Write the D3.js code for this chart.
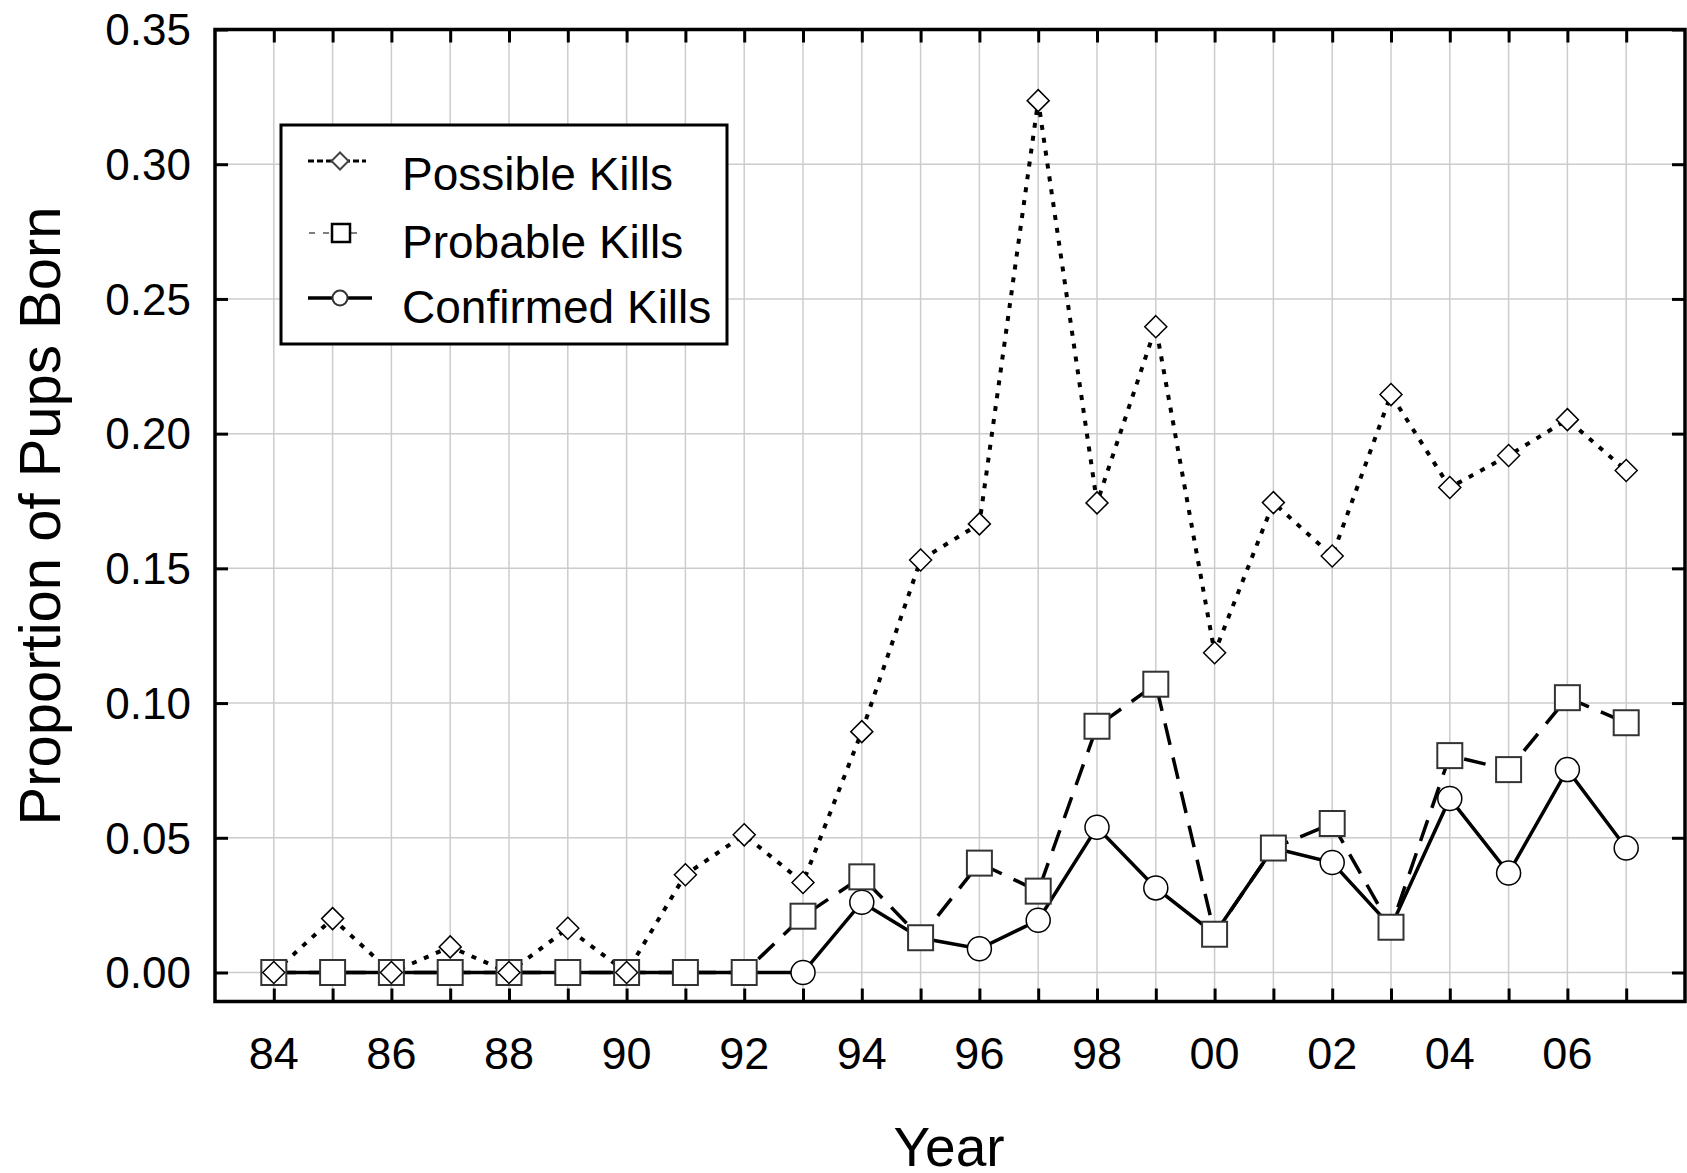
<!DOCTYPE html>
<html lang="en">
<head>
    <meta charset="UTF-8">
    <script src="https://cdnjs.cloudflare.com/ajax/libs/d3/7.8.5/d3.min.js"></script>
    <title>Proportion of Pups Born</title>
    <style>
        body { margin: 0; background: #fff; }
        svg { display: block; font-family: "Liberation Sans", Arial, sans-serif; }
    </style>
</head>
<body>
    <svg width="1687" height="1173"></svg>
    <script>
        var years = [1984, 1985, 1986, 1987, 1988, 1989, 1990, 1991, 1992, 1993, 1994, 1995,
            1996, 1997, 1998, 1999, 2000, 2001, 2002, 2003, 2004, 2005, 2006, 2007];
        var possibleKills = [0, 0.020, 0, 0.0095, 0, 0.0164, 0, 0.0363, 0.0511, 0.0334, 0.0894, 0.1531,
            0.1665, 0.3236, 0.1743, 0.2397, 0.1187, 0.1744, 0.1546, 0.2145, 0.1800, 0.1919, 0.2052, 0.1863];
        var probableKills = [0, 0, 0, 0, 0, 0, 0, 0, 0, 0.0209, 0.0355, 0.0129,
            0.0406, 0.0302, 0.0914, 0.1070, 0.0142, 0.0462, 0.0553, 0.0168, 0.0805, 0.0753, 0.1020, 0.0927];
        var confirmedKills = [0, 0, 0, 0, 0, 0, 0, 0, 0, 0, 0.0261, 0.0128,
            0.0088, 0.0194, 0.0539, 0.0314, 0.0143, 0.0462, 0.0408, 0.0170, 0.0646, 0.0369, 0.0753, 0.0462];
        var yTicks = [0, 0.05, 0.10, 0.15, 0.20, 0.25, 0.30, 0.35];
        var xLabelYears = [1984, 1986, 1988, 1990, 1992, 1994, 1996, 1998, 2000, 2002, 2004, 2006];
        var seriesNames = ["Possible Kills", "Probable Kills", "Confirmed Kills"];

        var plotLeft = 215, plotRight = 1685, plotTop = 29.5, plotBottom = 1001.5;

        var svg = d3.select("svg");

        var x = d3.scaleLinear().domain([1983, 2008]).range([plotLeft, plotRight]);
        var y = d3.scaleLinear().domain([0, 0.35]).range([972.5, plotTop]);

        // grid
        svg.append("g")
            .selectAll("line")
            .data(years)
            .enter()
            .append("line")
            .attr("x1", d => x(d)).attr("x2", d => x(d))
            .attr("y1", plotTop).attr("y2", plotBottom)
            .style("stroke", "#cccccc").style("stroke-width", 1.5);

        svg.append("g")
            .selectAll("line")
            .data(yTicks.slice(0, -1))
            .enter()
            .append("line")
            .attr("x1", plotLeft).attr("x2", plotRight)
            .attr("y1", d => y(d)).attr("y2", d => y(d))
            .style("stroke", "#cccccc").style("stroke-width", 1.5);

        // axes with inward ticks on every side
        var fmtY = d3.format(".2f");
        var fmtX = d => String(d).slice(2);

        var bottomAxis = d3.axisBottom(x).tickValues(years).tickSizeInner(-13).tickSizeOuter(0).tickFormat("");
        var topAxis = d3.axisTop(x).tickValues(years).tickSizeInner(-13).tickSizeOuter(0).tickFormat("");
        var leftAxis = d3.axisLeft(y).tickValues(yTicks).tickSizeInner(-13).tickSizeOuter(0).tickFormat("");
        var rightAxis = d3.axisRight(y).tickValues(yTicks).tickSizeInner(-13).tickSizeOuter(0).tickFormat("");

        [[bottomAxis, "translate(0," + plotBottom + ")"], [topAxis, "translate(0," + plotTop + ")"],
         [leftAxis, "translate(" + plotLeft + ",0)"], [rightAxis, "translate(" + plotRight + ",0)"]]
            .forEach(a => {
                var g = svg.append("g").attr("transform", a[1]).call(a[0]);
                g.select(".domain").remove();
                g.selectAll(".tick line").style("stroke", "#000").style("stroke-width", 3);
            });

        svg.append("rect")
            .attr("x", plotLeft).attr("y", plotTop)
            .attr("width", plotRight - plotLeft).attr("height", plotBottom - plotTop)
            .style("fill", "none").style("stroke", "#000").style("stroke-width", 3.5);

        // tick labels
        svg.append("g")
            .selectAll("text")
            .data(yTicks)
            .enter()
            .append("text")
            .attr("x", 191)
            .attr("y", d => y(d))
            .attr("dy", "0.36em")
            .attr("text-anchor", "end")
            .style("font-size", "44px")
            .text(d => fmtY(d));

        svg.append("g")
            .selectAll("text")
            .data(xLabelYears)
            .enter()
            .append("text")
            .attr("x", d => x(d))
            .attr("y", 1069)
            .attr("text-anchor", "middle")
            .style("font-size", "45px")
            .text(d => fmtX(d));

        // axis titles
        svg.append("text")
            .attr("transform", "translate(60,516) rotate(-90)")
            .attr("text-anchor", "middle")
            .style("font-size", "58px")
            .text("Proportion of Pups Born");

        svg.append("text")
            .attr("x", 949).attr("y", 1166)
            .attr("text-anchor", "middle")
            .style("font-size", "55px")
            .text("Year");

        // lines
        var line = d3.line().x(d => x(d[0])).y(d => y(d[1]));
        var zip = vals => years.map((yr, i) => [yr, vals[i]]);

        svg.append("path")
            .attr("d", line(zip(confirmedKills)))
            .style("fill", "none").style("stroke", "#000").style("stroke-width", 3.5);
        svg.append("path")
            .attr("d", line(zip(probableKills)))
            .style("fill", "none").style("stroke", "#000").style("stroke-width", 3.5)
            .style("stroke-dasharray", "22,13");
        svg.append("path")
            .attr("d", line(zip(possibleKills)))
            .style("fill", "none").style("stroke", "#000").style("stroke-width", 4)
            .style("stroke-dasharray", "5,8");

        // markers: circles, then squares, then diamonds on top
        svg.append("g")
            .selectAll("circle")
            .data(zip(confirmedKills))
            .enter()
            .append("circle")
            .attr("cx", d => x(d[0])).attr("cy", d => y(d[1]))
            .attr("r", 12)
            .style("fill", "#fff").style("stroke", "#000").style("stroke-width", 1.5);

        svg.append("g")
            .selectAll("rect")
            .data(zip(probableKills))
            .enter()
            .append("rect")
            .attr("x", d => x(d[0]) - 12.5).attr("y", d => y(d[1]) - 12.5)
            .attr("width", 25).attr("height", 25)
            .style("fill", "#fff").style("stroke", "#333").style("stroke-width", 2);

        var diamond = (cx, cy, r) => "M" + cx + "," + (cy - r) + "L" + (cx + r) + "," + cy +
            "L" + cx + "," + (cy + r) + "L" + (cx - r) + "," + cy + "Z";

        svg.append("g")
            .selectAll("path")
            .data(zip(possibleKills))
            .enter()
            .append("path")
            .attr("d", d => diamond(x(d[0]), y(d[1]), 11))
            .style("fill", "#fff").style("stroke", "#000").style("stroke-width", 1.5);

        // legend
        var legend = svg.append("g");
        legend.append("rect")
            .attr("x", 281).attr("y", 125)
            .attr("width", 446).attr("height", 219)
            .style("fill", "#fff").style("stroke", "#000").style("stroke-width", 3);

        var legendY = [161, 233, 298];
        var textY = [190, 258, 323];

        legend.selectAll("text")
            .data(seriesNames)
            .enter()
            .append("text")
            .attr("x", 402)
            .attr("y", (d, i) => textY[i])
            .style("font-size", "46px")
            .text(d => d);

        legend.append("line")
            .attr("x1", 308).attr("x2", 366).attr("y1", legendY[0]).attr("y2", legendY[0])
            .style("stroke", "#000").style("stroke-width", 3).style("stroke-dasharray", "6,3");
        legend.append("path")
            .attr("d", diamond(340, legendY[0], 8.5))
            .style("fill", "#fff").style("stroke", "#444").style("stroke-width", 2);

        legend.append("line")
            .attr("x1", 309).attr("x2", 364).attr("y1", legendY[1]).attr("y2", legendY[1])
            .style("stroke", "#555").style("stroke-width", 1.5).style("stroke-dasharray", "6,8");
        legend.append("rect")
            .attr("x", 332).attr("y", legendY[1] - 9).attr("width", 18).attr("height", 18)
            .style("fill", "#fff").style("stroke", "#000").style("stroke-width", 2.5);

        legend.append("line")
            .attr("x1", 308).attr("x2", 372).attr("y1", legendY[2]).attr("y2", legendY[2])
            .style("stroke", "#000").style("stroke-width", 3.5);
        legend.append("circle")
            .attr("cx", 340).attr("cy", legendY[2]).attr("r", 7.5)
            .style("fill", "#fff").style("stroke", "#333").style("stroke-width", 2);
    </script>
</body>
</html>
